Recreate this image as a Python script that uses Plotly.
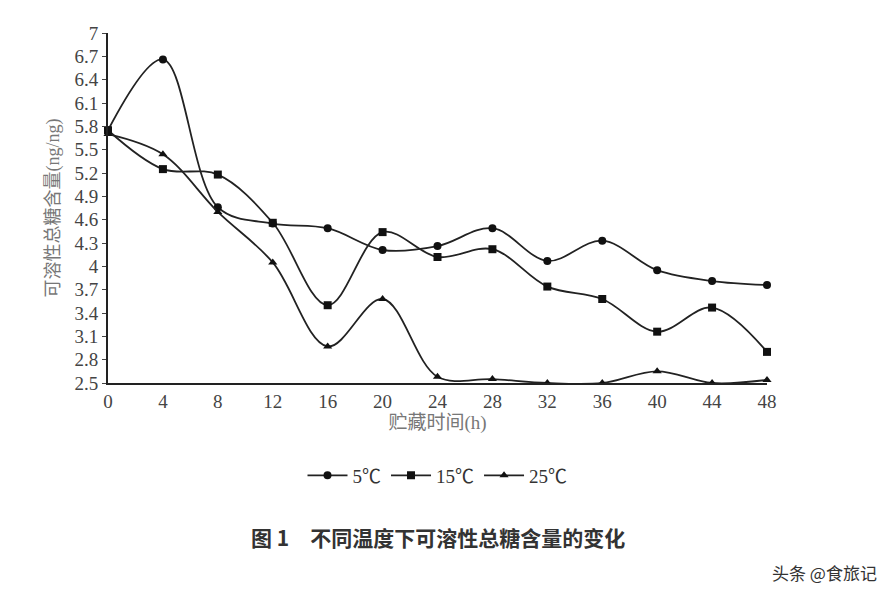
import plotly.graph_objects as go

hours = [0, 4, 8, 12, 16, 20, 24, 28, 32, 36, 40, 44, 48]
t5 = [5.75, 6.66, 4.76, 4.55, 4.49, 4.21, 4.26, 4.49, 4.07, 4.33, 3.95, 3.81, 3.76]
t15 = [5.75, 5.25, 5.18, 4.56, 3.50, 4.44, 4.12, 4.22, 3.74, 3.58, 3.16, 3.47, 2.90]
t25 = [5.70, 5.44, 4.70, 4.05, 2.97, 3.58, 2.58, 2.55, 2.50, 2.50, 2.65, 2.50, 2.54]
yticks = [2.5, 2.8, 3.1, 3.4, 3.7, 4, 4.3, 4.6, 4.9, 5.2, 5.5, 5.8, 6.1, 6.4, 6.7, 7]
ytext = ["2.5", "2.8", "3.1", "3.4", "3.7", "4", "4.3", "4.6", "4.9", "5.2", "5.5", "5.8", "6.1", "6.4", "6.7", "7"]

fig = go.Figure()
for name, ys, sym in [("5℃", t5, "circle"), ("15℃", t15, "square"), ("25℃", t25, "triangle-up")]:
    fig.add_trace(go.Scatter(x=hours, y=ys, name=name, mode="lines+markers",
                             line=dict(color="#222", width=1.8, shape="spline", smoothing=1.0),
                             marker=dict(symbol=sym, size=8, color="#111"), cliponaxis=False))

font = "Liberation Serif, Noto Sans CJK SC, serif"
fig.update_layout(
    width=888, height=604, paper_bgcolor="white", plot_bgcolor="white",
    margin=dict(l=100, r=129, t=25, b=229),
    font=dict(family=font, size=19, color="#444"),
    showlegend=True,
    legend=dict(orientation="h", x=0.5, xanchor="center", y=-0.21, yanchor="top",
                font=dict(size=19, color="#333"), itemwidth=40),
    xaxis=dict(range=[0, 48], tickvals=hours, showline=True, linecolor="#222", linewidth=2,
               ticks="", showgrid=False, zeroline=False,
               title=dict(text="贮藏时间(h)", font=dict(size=19, color="#777"), standoff=4)),
    yaxis=dict(range=[2.5, 7], tickvals=yticks, ticktext=ytext, showline=True, linecolor="#222",
               linewidth=2, ticks="outside", ticklen=4, showgrid=False, zeroline=False,
               title=dict(text="可溶性总糖含量(ng/ng)", font=dict(size=18, color="#777"), standoff=10)),
    annotations=[
        dict(text="<b>图 1　不同温度下可溶性总糖含量的变化</b>", xref="paper", yref="paper",
             x=0.5, y=-0.39, xanchor="center", yanchor="top", showarrow=False,
             font=dict(size=21, color="#333", family="Noto Sans CJK SC")),
        dict(text="头条 @食旅记", xref="paper", yref="paper", x=1.17, y=-0.5,
             xanchor="right", yanchor="top", showarrow=False,
             font=dict(size=17, color="#333", family="Noto Sans CJK SC")),
    ],
)
fig.write_html("out.html")
